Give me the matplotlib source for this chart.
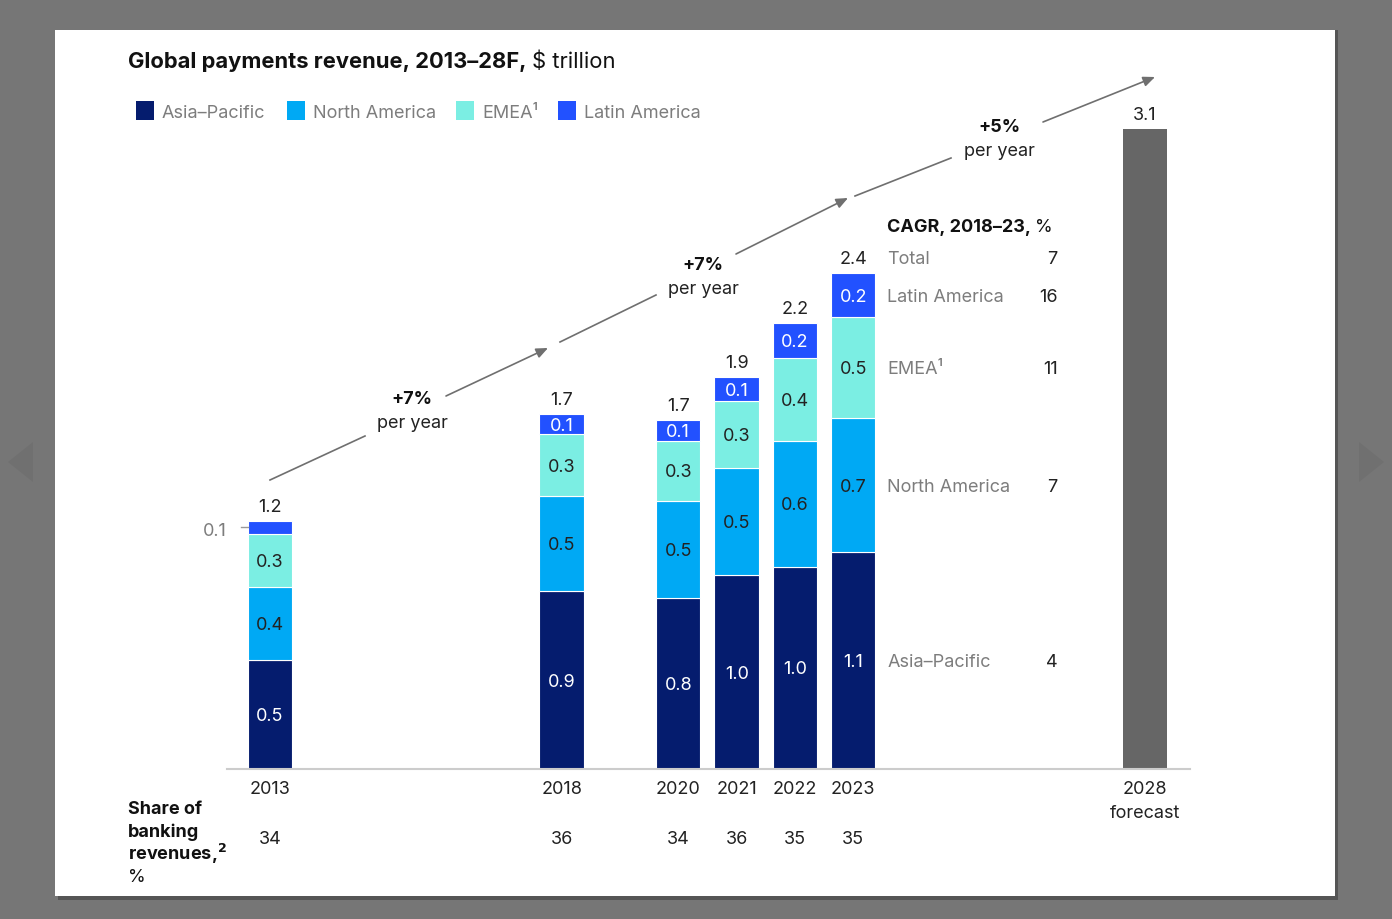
import matplotlib.pyplot as plt
from matplotlib.patches import Rectangle, Polygon
import numpy as np

plt.rcParams['font.family'] = ['Inter', 'DejaVu Sans']

# data ($ trillion)
years = [2013, 2018, 2020, 2021, 2022, 2023]
asia_pacific = [0.53, 0.86, 0.83, 0.94, 0.98, 1.05]
north_america = [0.35, 0.46, 0.47, 0.52, 0.61, 0.65]
emea = [0.26, 0.30, 0.29, 0.32, 0.40, 0.49]
latin_america = [0.06, 0.10, 0.10, 0.12, 0.17, 0.21]
totals = ['1.2', '1.7', '1.7', '1.9', '2.2', '2.4']
ap_labels = ['0.5', '0.9', '0.8', '1.0', '1.0', '1.1']
na_labels = ['0.4', '0.5', '0.5', '0.5', '0.6', '0.7']
emea_labels = ['0.3', '0.3', '0.3', '0.3', '0.4', '0.5']
la_labels = ['0.1', '0.1', '0.1', '0.1', '0.2', '0.2']
share_banking = [34, 36, 34, 36, 35, 35]
forecast_year = 2028
forecast_value = 3.1

cagr_names = ['Total', 'Latin America', 'EMEA¹', 'North America', 'Asia–Pacific']
cagr_values = [7, 16, 11, 7, 4]

c_ap = '#051c6e'
c_na = '#00a9f4'
c_emea = '#7beee3'
c_la = '#2251ff'
c_fc = '#666666'
txt_gray = '#7d7d7d'
dark = '#222222'
black = '#111111'

W, H = 1392, 919
fig = plt.figure(figsize=(W / 100, H / 100), dpi=100, facecolor='#767676')
renderer = fig.canvas.get_renderer()

def fx(px):
    return px / W

def fy(py):
    return 1 - py / H

def ftext(px, py, s, **kw):
    # text placed by pixel position of the reference, nudged to match its vertical centre
    kw.setdefault('va', 'center')
    kw.setdefault('ha', 'left')
    return fig.text(fx(px), fy(py + 2), s, **kw)

def right_px(t):
    bb = t.get_window_extent(renderer)
    return bb.x1

# card + shadow
fig.patches.append(Rectangle((fx(58), fy(900)), fx(1280), 870 / H, transform=fig.transFigure,
                             facecolor='#555555', edgecolor='none', zorder=-3))
fig.patches.append(Rectangle((fx(55), fy(896)), fx(1280), 866 / H, transform=fig.transFigure,
                             facecolor='white', edgecolor='none', zorder=-2))
# faint gallery arrows
fig.patches.append(Polygon([[fx(8), fy(462)], [fx(33), fy(442)], [fx(33), fy(482)]], closed=True,
                           transform=fig.transFigure, facecolor='#707070', edgecolor='none'))
fig.patches.append(Polygon([[fx(1384), fy(462)], [fx(1359), fy(442)], [fx(1359), fy(482)]], closed=True,
                           transform=fig.transFigure, facecolor='#707070', edgecolor='none'))

# axes: year on x, trillion on y
px_per_year = 58.33
px_per_unit = 206.5
x0 = 270 - px_per_year  # pixel of 2012
ax = fig.add_axes([fx(x0), (H - 769) / H, 18 * px_per_year / W, 3.5 * px_per_unit / H])
ax.set_xlim(2012, 2030)
ax.set_ylim(0, 3.5)
ax.axis('off')
dy = -0.01

x = np.array(years)
ap = np.array(asia_pacific)
na = np.array(north_america)
em = np.array(emea)
la = np.array(latin_america)
bw = 0.76
ec = 'white'
ax.bar(x, ap, bw, color=c_ap, edgecolor=ec, linewidth=0.8)
ax.bar(x, na, bw, bottom=ap, color=c_na, edgecolor=ec, linewidth=0.8)
ax.bar(x, em, bw, bottom=ap + na, color=c_emea, edgecolor=ec, linewidth=0.8)
ax.bar(x, la, bw, bottom=ap + na + em, color=c_la, edgecolor=ec, linewidth=0.8)
ax.bar([forecast_year], [forecast_value], bw, color=c_fc)

ax.plot([2012.26, 2028.77], [0, 0], color='#cccccc', lw=1.5, clip_on=False)

fs = 13
for i, yr in enumerate(years):
    ax.text(yr, ap[i] / 2 + dy, ap_labels[i], ha='center', va='center', color='white', fontsize=fs)
    ax.text(yr, ap[i] + na[i] / 2 + dy, na_labels[i], ha='center', va='center', color=dark, fontsize=fs)
    ax.text(yr, ap[i] + na[i] + em[i] / 2 + dy, emea_labels[i], ha='center', va='center', color=dark, fontsize=fs)
    top = ap[i] + na[i] + em[i] + la[i]
    if i > 0:
        ax.text(yr, top - la[i] / 2 + dy, la_labels[i], ha='center', va='center', color='white', fontsize=fs)
    ax.text(yr, top + 0.075 + dy, totals[i], ha='center', va='center', color=dark, fontsize=fs)
    ax.text(yr, -0.09 + dy, str(yr), ha='center', va='center', color=dark, fontsize=fs)
    ax.text(yr, -0.33 + dy, str(share_banking[i]), ha='center', va='center', color=dark, fontsize=fs)

# small label for the thin 2013 Latin America slice
top13 = ap[0] + na[0] + em[0] + la[0]
ax.plot([2012.50, 2012.62], [top13 - 0.03, top13 - 0.03], color='#999999', lw=1, clip_on=False)
ax.text(2012.26, top13 - 0.04 + dy, la_labels[0], ha='right', va='center', color=txt_gray, fontsize=fs)

ax.text(forecast_year, forecast_value + 0.075 + dy, '3.1', ha='center', va='center', color=dark, fontsize=fs)
ax.text(forecast_year, -0.09 + dy, '2028', ha='center', va='center', color=dark, fontsize=fs)
ax.text(forecast_year, -0.205 + dy, 'forecast', ha='center', va='center', color=dark, fontsize=fs)

# title
t = ftext(128, 60, 'Global payments revenue, 2013–28F,', fontsize=15.8, fontweight='bold', color=black)
ftext(right_px(t) + 6, 60, '$ trillion', fontsize=15.8, color=black)

# legend
leg = [('Asia–Pacific', c_ap, 136), ('North America', c_na, 287), ('EMEA¹', c_emea, 456),
       ('Latin America', c_la, 558)]
for name, col, lx in leg:
    fig.patches.append(Rectangle((fx(lx), fy(120)), fx(18), 19 / H, transform=fig.transFigure,
                                 facecolor=col, edgecolor='none'))
    ftext(lx + 26, 111, name, fontsize=fs, color=txt_gray)

# growth arrows
arrow_col = '#6f6f6f'
segments = [((270, 480), (365, 436), (446, 396), (548, 348), (412, 398, '+7%')),
            ((560, 342), (656, 295), (736, 254), (848, 198), (703, 263, '+7%')),
            ((855, 196), (951, 158), (1043, 122), (1155, 77), (999, 125, '+5%'))]
for a, b, c, d, (tx, ty, lab) in segments:
    fig.lines.append(plt.Line2D([fx(a[0]), fx(b[0])], [fy(a[1]), fy(b[1])], transform=fig.transFigure,
                                color=arrow_col, lw=1.2))
    ax.annotate('', xy=(fx(d[0]), fy(d[1])), xytext=(fx(c[0]), fy(c[1])),
                xycoords='figure fraction', textcoords='figure fraction',
                arrowprops=dict(arrowstyle='-|>,head_length=0.7,head_width=0.3', color=arrow_col, lw=1.2,
                                shrinkA=0, shrinkB=0))
    ftext(tx, ty, lab, fontsize=fs, fontweight='bold', ha='center', color=black)
    ftext(tx, ty + 24, 'per year', fontsize=fs, ha='center', color=dark)

# CAGR panel
t = ftext(887, 225, 'CAGR, 2018–23,', fontsize=fs, fontweight='bold', color=black)
ftext(right_px(t) + 4, 225, '%', fontsize=fs, color=black)
i23 = years.index(2023)
top23 = ap[i23] + na[i23] + em[i23] + la[i23]
seg_mid = [top23 + 0.075,
           top23 - la[i23] / 2,
           ap[i23] + na[i23] + em[i23] / 2,
           ap[i23] + na[i23] / 2,
           ap[i23] / 2]
for name, val, ym in zip(cagr_names, cagr_values, seg_mid):
    ax.text(2023.58, ym + dy, name, fontsize=fs, ha='left', va='center', color=txt_gray)
    ax.text(2026.5, ym + dy, str(val), fontsize=fs, ha='right', va='center', color=dark)

# share of banking label
ftext(128, 807, 'Share of', fontsize=fs, fontweight='bold', color=black)
ftext(128, 830, 'banking', fontsize=fs, fontweight='bold', color=black)
ftext(128, 852, r'revenues,$^{\mathbf{2}}$', fontsize=fs, fontweight='bold', color=black)
ftext(128, 876, '%', fontsize=fs, color=black)

fig.savefig('out.png', dpi=100, facecolor=fig.get_facecolor())
